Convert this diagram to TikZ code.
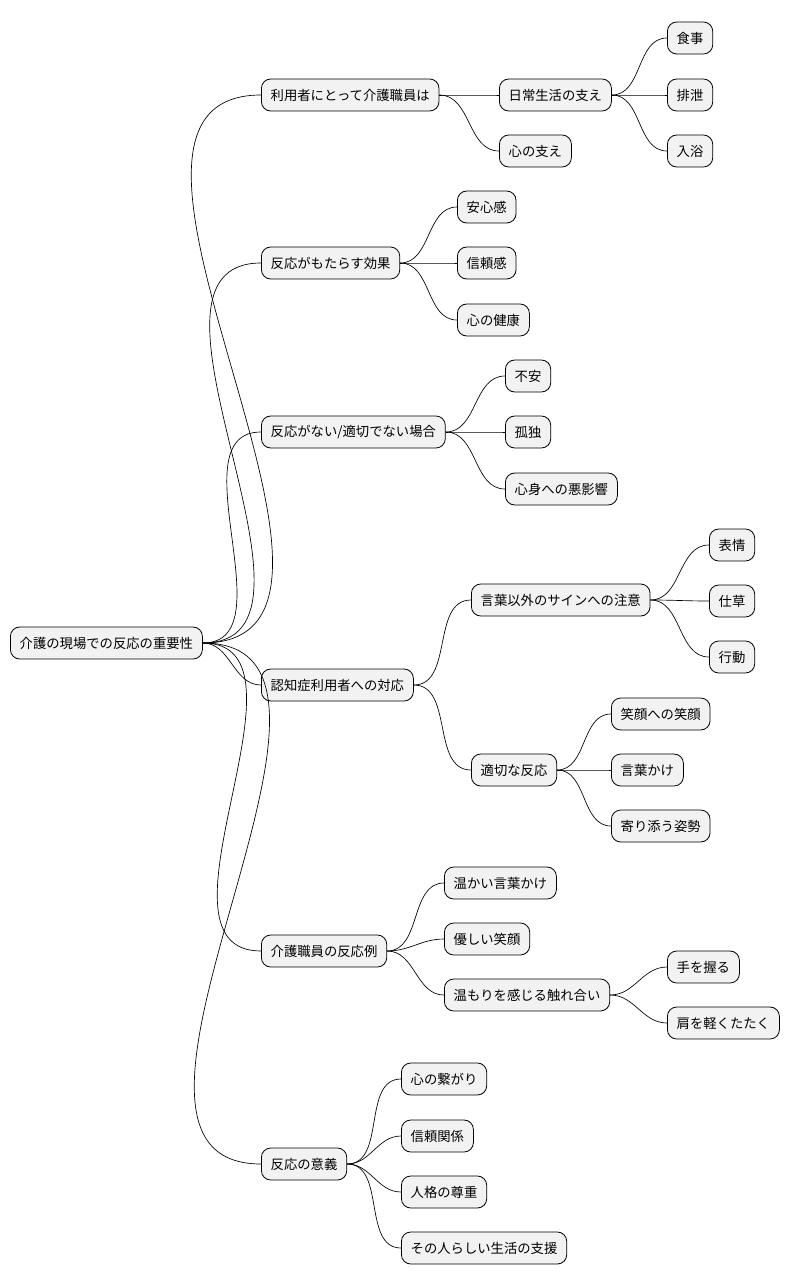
\documentclass[tikz,border=0pt]{standalone}
\usepackage{fontspec}
\newfontfamily\jpfont{Noto Sans CJK JP}
\tikzset{
  mm/.style={draw, rounded corners=7pt, fill=gray!10, anchor=west, minimum height=24pt,
    inner xsep=7pt, font=\jpfont\fontsize{10pt}{12pt}\selectfont, line width=0.6pt},
  link/.style={draw, line width=0.5pt, out=0, in=180}
}
\begin{document}
\begin{tikzpicture}[x=0.75pt, y=-0.75pt]
  \useasboundingbox (0,0) rectangle (796,1287);
  % root and first level
  \node[mm] (root) at (10,643) {介護の現場での反応の重要性};
  \node[mm] (user) at (261,95) {利用者にとって介護職員は};
  \node[mm] (eff) at (261,263) {反応がもたらす効果};
  \node[mm] (none) at (261,432) {反応がない/適切でない場合};
  \node[mm] (dem) at (261,685) {認知症利用者への対応};
  \node[mm] (ex) at (261,951) {介護職員の反応例};
  \node[mm] (mean) at (261,1164) {反応の意義};
  \foreach \n in {user,eff,none,dem,ex,mean}
    \draw[link] (root.east) to (\n.west);

  % 利用者にとって介護職員は
  \node[mm] (life) at (499,95) {日常生活の支え};
  \node[mm] (heart) at (499,151) {心の支え};
  \node[mm] (meal) at (667,38) {食事};
  \node[mm] (toilet) at (667,95) {排泄};
  \node[mm] (bath) at (667,151) {入浴};
  \foreach \n in {life,heart} \draw[link] (user.east) to (\n.west);
  \foreach \n in {meal,toilet,bath} \draw[link] (life.east) to (\n.west);

  % 反応がもたらす効果
  \node[mm] (safe) at (457,207) {安心感};
  \node[mm] (trust) at (457,263) {信頼感};
  \node[mm] (health) at (457,320) {心の健康};
  \foreach \n in {safe,trust,health} \draw[link] (eff.east) to (\n.west);

  % 反応がない場合
  \node[mm] (anx) at (505,376) {不安};
  \node[mm] (lone) at (505,432) {孤独};
  \node[mm] (bad) at (505,489) {心身への悪影響};
  \foreach \n in {anx,lone,bad} \draw[link] (none.east) to (\n.west);

  % 認知症利用者への対応
  \node[mm] (sign) at (471,600) {言葉以外のサインへの注意};
  \node[mm] (resp) at (471,770) {適切な反応};
  \node[mm] (face) at (709,545) {表情};
  \node[mm] (gest) at (709,601) {仕草};
  \node[mm] (act) at (709,657) {行動};
  \node[mm] (smile) at (611,714) {笑顔への笑顔};
  \node[mm] (call) at (611,770) {言葉かけ};
  \node[mm] (near) at (611,826) {寄り添う姿勢};
  \foreach \n in {sign,resp} \draw[link] (dem.east) to (\n.west);
  \foreach \n in {face,gest,act} \draw[link] (sign.east) to (\n.west);
  \foreach \n in {smile,call,near} \draw[link] (resp.east) to (\n.west);

  % 介護職員の反応例
  \node[mm] (warm) at (444,883) {温かい言葉かけ};
  \node[mm] (kind) at (444,939) {優しい笑顔};
  \node[mm] (touch) at (444,995) {温もりを感じる触れ合い};
  \node[mm] (hand) at (667,967) {手を握る};
  \node[mm] (tap) at (667,1023) {肩を軽くたたく};
  \foreach \n in {warm,kind,touch} \draw[link] (ex.east) to (\n.west);
  \foreach \n in {hand,tap} \draw[link] (touch.east) to (\n.west);

  % 反応の意義
  \node[mm] (bond) at (401,1079) {心の繋がり};
  \node[mm] (rel) at (401,1136) {信頼関係};
  \node[mm] (resp2) at (401,1192) {人格の尊重};
  \node[mm] (own) at (401,1248) {その人らしい生活の支援};
  \foreach \n in {bond,rel,resp2,own} \draw[link] (mean.east) to (\n.west);
\end{tikzpicture}
\end{document}
